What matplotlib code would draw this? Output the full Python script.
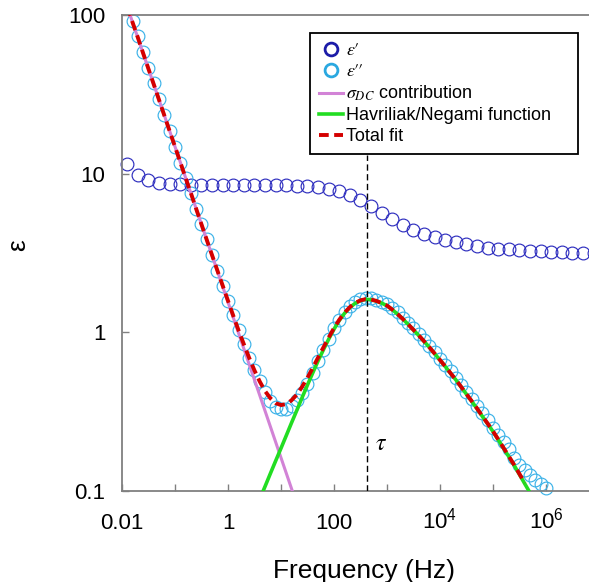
import numpy as np
import matplotlib
matplotlib.use("Agg")
import matplotlib.pyplot as plt
from matplotlib.ticker import FixedLocator, NullLocator, FixedFormatter
import matplotlib.transforms as mtransforms

plt.rcParams['font.family'] = ['Liberation Sans', 'DejaVu Sans']
plt.rcParams['mathtext.fontset'] = 'stix'

# ---------------- data ----------------
# epsilon' (real part), every 0.2 decade
FREQ_EPS1 = [0.0126, 0.0200, 0.0316, 0.0501, 0.0794,
             0.126, 0.200, 0.316, 0.501, 0.794,
             1.26, 2.00, 3.16, 5.01, 7.94,
             12.6, 20.0, 31.6, 50.1, 79.4,
             126, 200, 316, 501, 794,
             1.26e3, 2.00e3, 3.16e3, 5.01e3, 7.94e3,
             1.26e4, 2.00e4, 3.16e4, 5.01e4, 7.94e4,
             1.26e5, 2.00e5, 3.16e5, 5.01e5, 7.94e5,
             1.26e6, 2.00e6, 3.16e6, 5.01e6, 7.94e6]
EPS1 = [11.5, 9.86, 9.17, 8.74, 8.60,
        8.55, 8.53, 8.52, 8.51, 8.50,
        8.49, 8.48, 8.47, 8.46, 8.45,
        8.44, 8.42, 8.40, 8.25, 8.05,
        7.76, 7.38, 6.86, 6.25, 5.68,
        5.19, 4.78, 4.44, 4.19, 3.98,
        3.81, 3.70, 3.58, 3.49, 3.41,
        3.36, 3.33, 3.29, 3.27, 3.25,
        3.22, 3.20, 3.17, 3.15, 3.14]

# epsilon'' (imaginary part), every 0.1 decade
FREQ_EPS2 = [0.0158, 0.0200, 0.0251, 0.0316, 0.0398, 0.0501, 0.0631, 0.0794,
             0.100, 0.126, 0.158, 0.200, 0.251, 0.316, 0.398, 0.501, 0.631, 0.794,
             1.00, 1.26, 1.58, 2.00, 2.51, 3.16, 3.98, 5.01, 6.31, 7.94,
             10.0, 12.6, 15.8, 20.0, 25.1, 31.6, 39.8, 50.1, 63.1, 79.4,
             100, 126, 158, 200, 251, 316, 398, 501, 631, 794,
             1.00e3, 1.26e3, 1.58e3, 2.00e3, 2.51e3, 3.16e3, 3.98e3, 5.01e3, 6.31e3, 7.94e3,
             1.00e4, 1.26e4, 1.58e4, 2.00e4, 2.51e4, 3.16e4, 3.98e4, 5.01e4, 6.31e4, 7.94e4,
             1.00e5, 1.26e5, 1.58e5, 2.00e5, 2.51e5, 3.16e5, 3.98e5, 5.01e5, 6.31e5, 7.94e5,
             1.00e6]
EPS2 = [91.2, 73.3, 58.2, 46.2, 37.2, 29.5, 23.4, 18.6,
        14.8, 11.7, 9.44, 7.59, 6.03, 4.79, 3.85, 3.09, 2.45, 1.97,
        1.58, 1.29, 1.035, 0.841, 0.692, 0.575, 0.490, 0.422, 0.367, 0.339,
        0.327, 0.330, 0.343, 0.372, 0.412, 0.473, 0.552, 0.661, 0.776, 0.912,
        1.059, 1.202, 1.334, 1.455, 1.549, 1.611, 1.641, 1.637, 1.607, 1.560,
        1.503, 1.422, 1.334, 1.239, 1.148, 1.059, 0.977, 0.897, 0.822, 0.750,
        0.684, 0.624, 0.568, 0.515, 0.466, 0.421, 0.380, 0.343, 0.309, 0.279,
        0.251, 0.226, 0.204, 0.184, 0.162, 0.146, 0.135, 0.126, 0.117, 0.111,
        0.105]

# sigma_DC contribution (straight line in log-log)
FREQ_DC = [0.01, 0.1, 1.0, 10.0, 25.1]
EPS_DC = [141, 14.8, 1.55, 0.162, 0.0658]

# Havriliak/Negami function
FREQ_HN = [3.16, 3.98, 5.01, 6.31, 7.94,
           10.0, 12.6, 15.8, 20.0, 25.1, 31.6, 39.8, 50.1, 63.1, 79.4,
           100, 126, 158, 200, 251, 316, 398, 501, 631, 794,
           1.00e3, 1.26e3, 1.58e3, 2.00e3, 2.51e3, 3.16e3, 3.98e3, 5.01e3, 6.31e3, 7.94e3,
           1.00e4, 1.26e4, 1.58e4, 2.00e4, 2.51e4, 3.16e4, 3.98e4, 5.01e4, 6.31e4, 7.94e4,
           1.00e5, 1.26e5, 1.58e5, 2.00e5, 2.51e5, 3.16e5, 3.98e5, 5.01e5, 6.31e5]
EPS_HN = [0.0741, 0.0891, 0.107, 0.129, 0.155,
          0.186, 0.224, 0.269, 0.324, 0.389, 0.466, 0.556, 0.661, 0.776, 0.906,
          1.047, 1.189, 1.318, 1.436, 1.524, 1.585, 1.614, 1.607, 1.574, 1.528,
          1.472, 1.390, 1.303, 1.211, 1.122, 1.035, 0.955, 0.877, 0.804, 0.733,
          0.668, 0.608, 0.552, 0.501, 0.452, 0.407, 0.367, 0.330, 0.295, 0.265,
          0.237, 0.210, 0.186, 0.164, 0.145, 0.127, 0.111, 0.0973, 0.0851]

# Total fit
FREQ_TOT = [0.0126, 0.0158, 0.0200, 0.0251, 0.0316, 0.0398, 0.0501, 0.0631, 0.0794,
            0.100, 0.126, 0.158, 0.200, 0.251, 0.316, 0.398, 0.501, 0.631, 0.794,
            1.00, 1.26, 1.58, 2.00, 2.51, 3.16, 3.98, 5.01, 6.31, 7.94,
            10.0, 12.6, 15.8, 20.0, 25.1, 31.6, 39.8, 50.1, 63.1, 79.4,
            100, 126, 158, 200, 251, 316, 398, 501, 631, 794,
            1.00e3, 1.26e3, 1.58e3, 2.00e3, 2.51e3, 3.16e3, 3.98e3, 5.01e3, 6.31e3, 7.94e3,
            1.00e4, 1.26e4, 1.58e4, 2.00e4, 2.51e4, 3.16e4, 3.98e4, 5.01e4, 6.31e4, 7.94e4,
            1.00e5, 1.26e5, 1.58e5, 2.00e5, 2.51e5, 3.16e5, 3.98e5]
EPS_TOT = [113, 89.9, 71.8, 57.3, 45.7, 36.5, 29.1, 23.2, 18.5,
           14.8, 11.8, 9.42, 7.52, 6.00, 4.79, 3.82, 3.06, 2.45, 1.97,
           1.58, 1.27, 1.03, 0.838, 0.690, 0.575, 0.489, 0.426, 0.384, 0.358,
           0.348, 0.353, 0.373, 0.406, 0.455, 0.518, 0.598, 0.694, 0.803, 0.927,
           1.064, 1.202, 1.329, 1.444, 1.531, 1.591, 1.619, 1.610, 1.577, 1.530,
           1.474, 1.391, 1.304, 1.212, 1.123, 1.036, 0.956, 0.878, 0.805, 0.734,
           0.669, 0.609, 0.553, 0.502, 0.453, 0.408, 0.368, 0.331, 0.296, 0.266,
           0.238, 0.211, 0.187, 0.165, 0.146, 0.128, 0.112]

TAU_FREQ = 420.0

X_TICKS = [1e-2, 1e-1, 1e0, 1e1, 1e2, 1e3, 1e4, 1e5, 1e6, 1e7]
X_LABEL_POS = [1e-2, 1e0, 1e2, 1e4, 1e6]
X_LABELS = ['0.01', '1', '100', r'$\mathdefault{10^{4}}$', r'$\mathdefault{10^{6}}$']
Y_TICKS = [0.1, 1, 10, 100]
Y_LABELS = ['0.1', '1', '10', '100']

LEGEND_LABELS = [r"$\varepsilon\prime$", r"$\varepsilon\prime\!\prime$",
                 r"$\sigma_{DC}$ contribution", "Havriliak/Negami function",
                 "Total fit"]

# ---------------- figure ----------------
W, H = 589, 582
fig = plt.figure(figsize=(W / 100, H / 100), dpi=100)
ax = fig.add_axes([122 / W, 91 / H, 477 / W, 476 / H])
ax.set_xscale('log')
ax.set_yscale('log')
ax.set_xlim(1e-2, 1e7)
ax.set_ylim(0.1, 100)

c_eps1 = '#2f2fbf'
c_eps2 = '#3cb2e8'
c_dc = '#d283d6'
c_hn = '#22dd22'
c_tot = '#d40000'

ax.plot(FREQ_EPS1, EPS1, linestyle='none', marker='o', markersize=9.2,
        markerfacecolor='none', markeredgecolor=c_eps1, markeredgewidth=0.85,
        clip_on=False, zorder=2, label=LEGEND_LABELS[0])
ax.plot(FREQ_EPS2, EPS2, linestyle='none', marker='o', markersize=9.2,
        markerfacecolor='none', markeredgecolor=c_eps2, markeredgewidth=0.85,
        clip_on=False, zorder=2, label=LEGEND_LABELS[1])
ax.plot(FREQ_DC, EPS_DC, color=c_dc, lw=2.2, zorder=3, label=LEGEND_LABELS[2])
ax.plot(FREQ_HN, EPS_HN, color=c_hn, lw=2.6, zorder=4, label=LEGEND_LABELS[3])
ax.plot(FREQ_TOT, EPS_TOT, color=c_tot, lw=2.8, linestyle=(0, (2.5, 1.4)),
        zorder=5, label=LEGEND_LABELS[4])

# tau marker
ax.axvline(TAU_FREQ, ymin=0, ymax=0.706, color='black', lw=1.0,
           linestyle=(0, (4.5, 2.5)), zorder=6)
ax.annotate(r'$\tau$', xy=(TAU_FREQ, 0.198), xytext=(5.5, 0),
            textcoords='offset points', ha='left', va='center', fontsize=17)

# axes styling
for side in ['left', 'bottom', 'top']:
    ax.spines[side].set_color('#808080')
    ax.spines[side].set_linewidth(1.3)
ax.spines['right'].set_visible(False)

ax.xaxis.set_major_locator(FixedLocator(X_TICKS))
ax.xaxis.set_minor_locator(NullLocator())
ax.yaxis.set_major_locator(FixedLocator(Y_TICKS))
ax.yaxis.set_minor_locator(NullLocator())
ax.yaxis.set_major_formatter(FixedFormatter(Y_LABELS))
ax.tick_params(axis='both', which='major', direction='in', length=5, width=1,
               color='#808080', labelsize=16, pad=12)
ax.tick_params(axis='x', labelbottom=False, top=False)
ax.tick_params(axis='y', right=False)

trans = mtransforms.blended_transform_factory(ax.transData, ax.transAxes)
for pos, lab in zip(X_LABEL_POS, X_LABELS):
    ax.text(pos, -0.0798, lab, transform=trans, ha='center', va='baseline',
            fontsize=16)

ax.set_xlabel('Frequency (Hz)', fontsize=19)
ax.xaxis.label.set_va('baseline')
ax.xaxis.set_label_coords(0.507, (491 - 578) / 476)
ax.set_ylabel('ε', fontsize=19)
ax.yaxis.label.set_va('center')
ax.yaxis.set_label_coords((18 - 122) / 477, (491 - 245) / 476)

leg = ax.legend(loc='upper left',
                bbox_to_anchor=(310 / W, 1 - 155 / H, 268 / W, 122 / H),
                bbox_transform=fig.transFigure, mode='expand',
                borderaxespad=0, fontsize=13, frameon=True, fancybox=False,
                edgecolor='black', framealpha=1, borderpad=0.5,
                labelspacing=0.22, handlelength=1.3, handletextpad=0.2)
leg.get_frame().set_linewidth(1.3)
hs = leg.legend_handles
hs[0].set_markeredgewidth(2.0)
hs[0].set_markeredgecolor('#1c1ca8')
hs[1].set_markeredgewidth(2.0)
hs[1].set_markeredgecolor('#2aa8e0')

fig.savefig('out.png', dpi=100)
